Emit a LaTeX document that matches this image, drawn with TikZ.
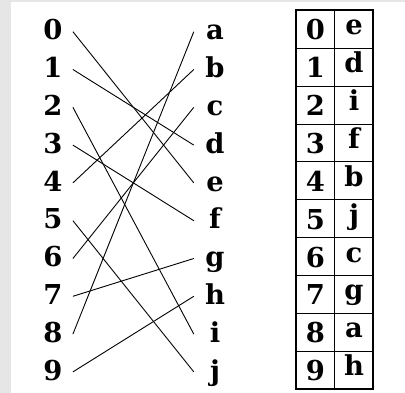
\documentclass[tikz,border=0pt]{standalone}
\usepackage{fontspec}
\setmainfont{DejaVu Serif}
\definecolor{bggray}{RGB}{230,230,230}
\tikzset{
  lbl/.style={font=\fontsize{27.4}{30}\selectfont\bfseries, inner sep=0pt, text height=16.6pt, text depth=0pt},
  ldig/.style={lbl, minimum width=39.4pt},
  rlet/.style={lbl, minimum width=42pt},
  tdig/.style={lbl, anchor=base},
  conn/.style={line width=0.9pt, black},
}
\begin{document}
\begin{tikzpicture}[x=1pt,y=-1pt]
\useasboundingbox (0,0) rectangle (405,393);
\fill[bggray] (0,0) rectangle (405,393);
\fill[white] (11,2.5) rectangle (405,393);
% left column digits and right column letters
\foreach \d [count=\i from 0] in {0,...,9} {
  \node[ldig, anchor=base] (L\d) at (53, 40+37.8*\i) {\d};
}
\foreach \l [count=\i from 0] in {a,b,c,d,e,f,g,h,i,j} {
  \node[rlet, anchor=base] (R\l) at (215, 40+37.8*\i) {\l};
}
% connectors
\foreach \a/\b in {0/e,1/d,2/i,3/f,4/b,5/j,6/c,7/g,8/a,9/h} {
  \draw[conn] (L\a.east) -- (R\b.west);
}
% table
\foreach \k in {1,...,9} {
  \draw[line width=1pt] (296, 10.5+37.85*\k) -- (373, 10.5+37.85*\k);
}
\draw[line width=1pt] (334.7,10.5) -- (334.7,389);
\draw[line width=2pt] (296,10.5) rectangle (373,389);
\foreach \d/\l [count=\i from 0] in {0/e,1/d,2/i,3/f,4/b,5/j,6/c,7/g,8/a,9/h} {
  \node[tdig] (T\d) at (315.5, 40+37.85*\i) {\d};
  \node[tdig] (U\d) at (354, 35+37.85*\i) {\l};
}
\end{tikzpicture}
\end{document}
